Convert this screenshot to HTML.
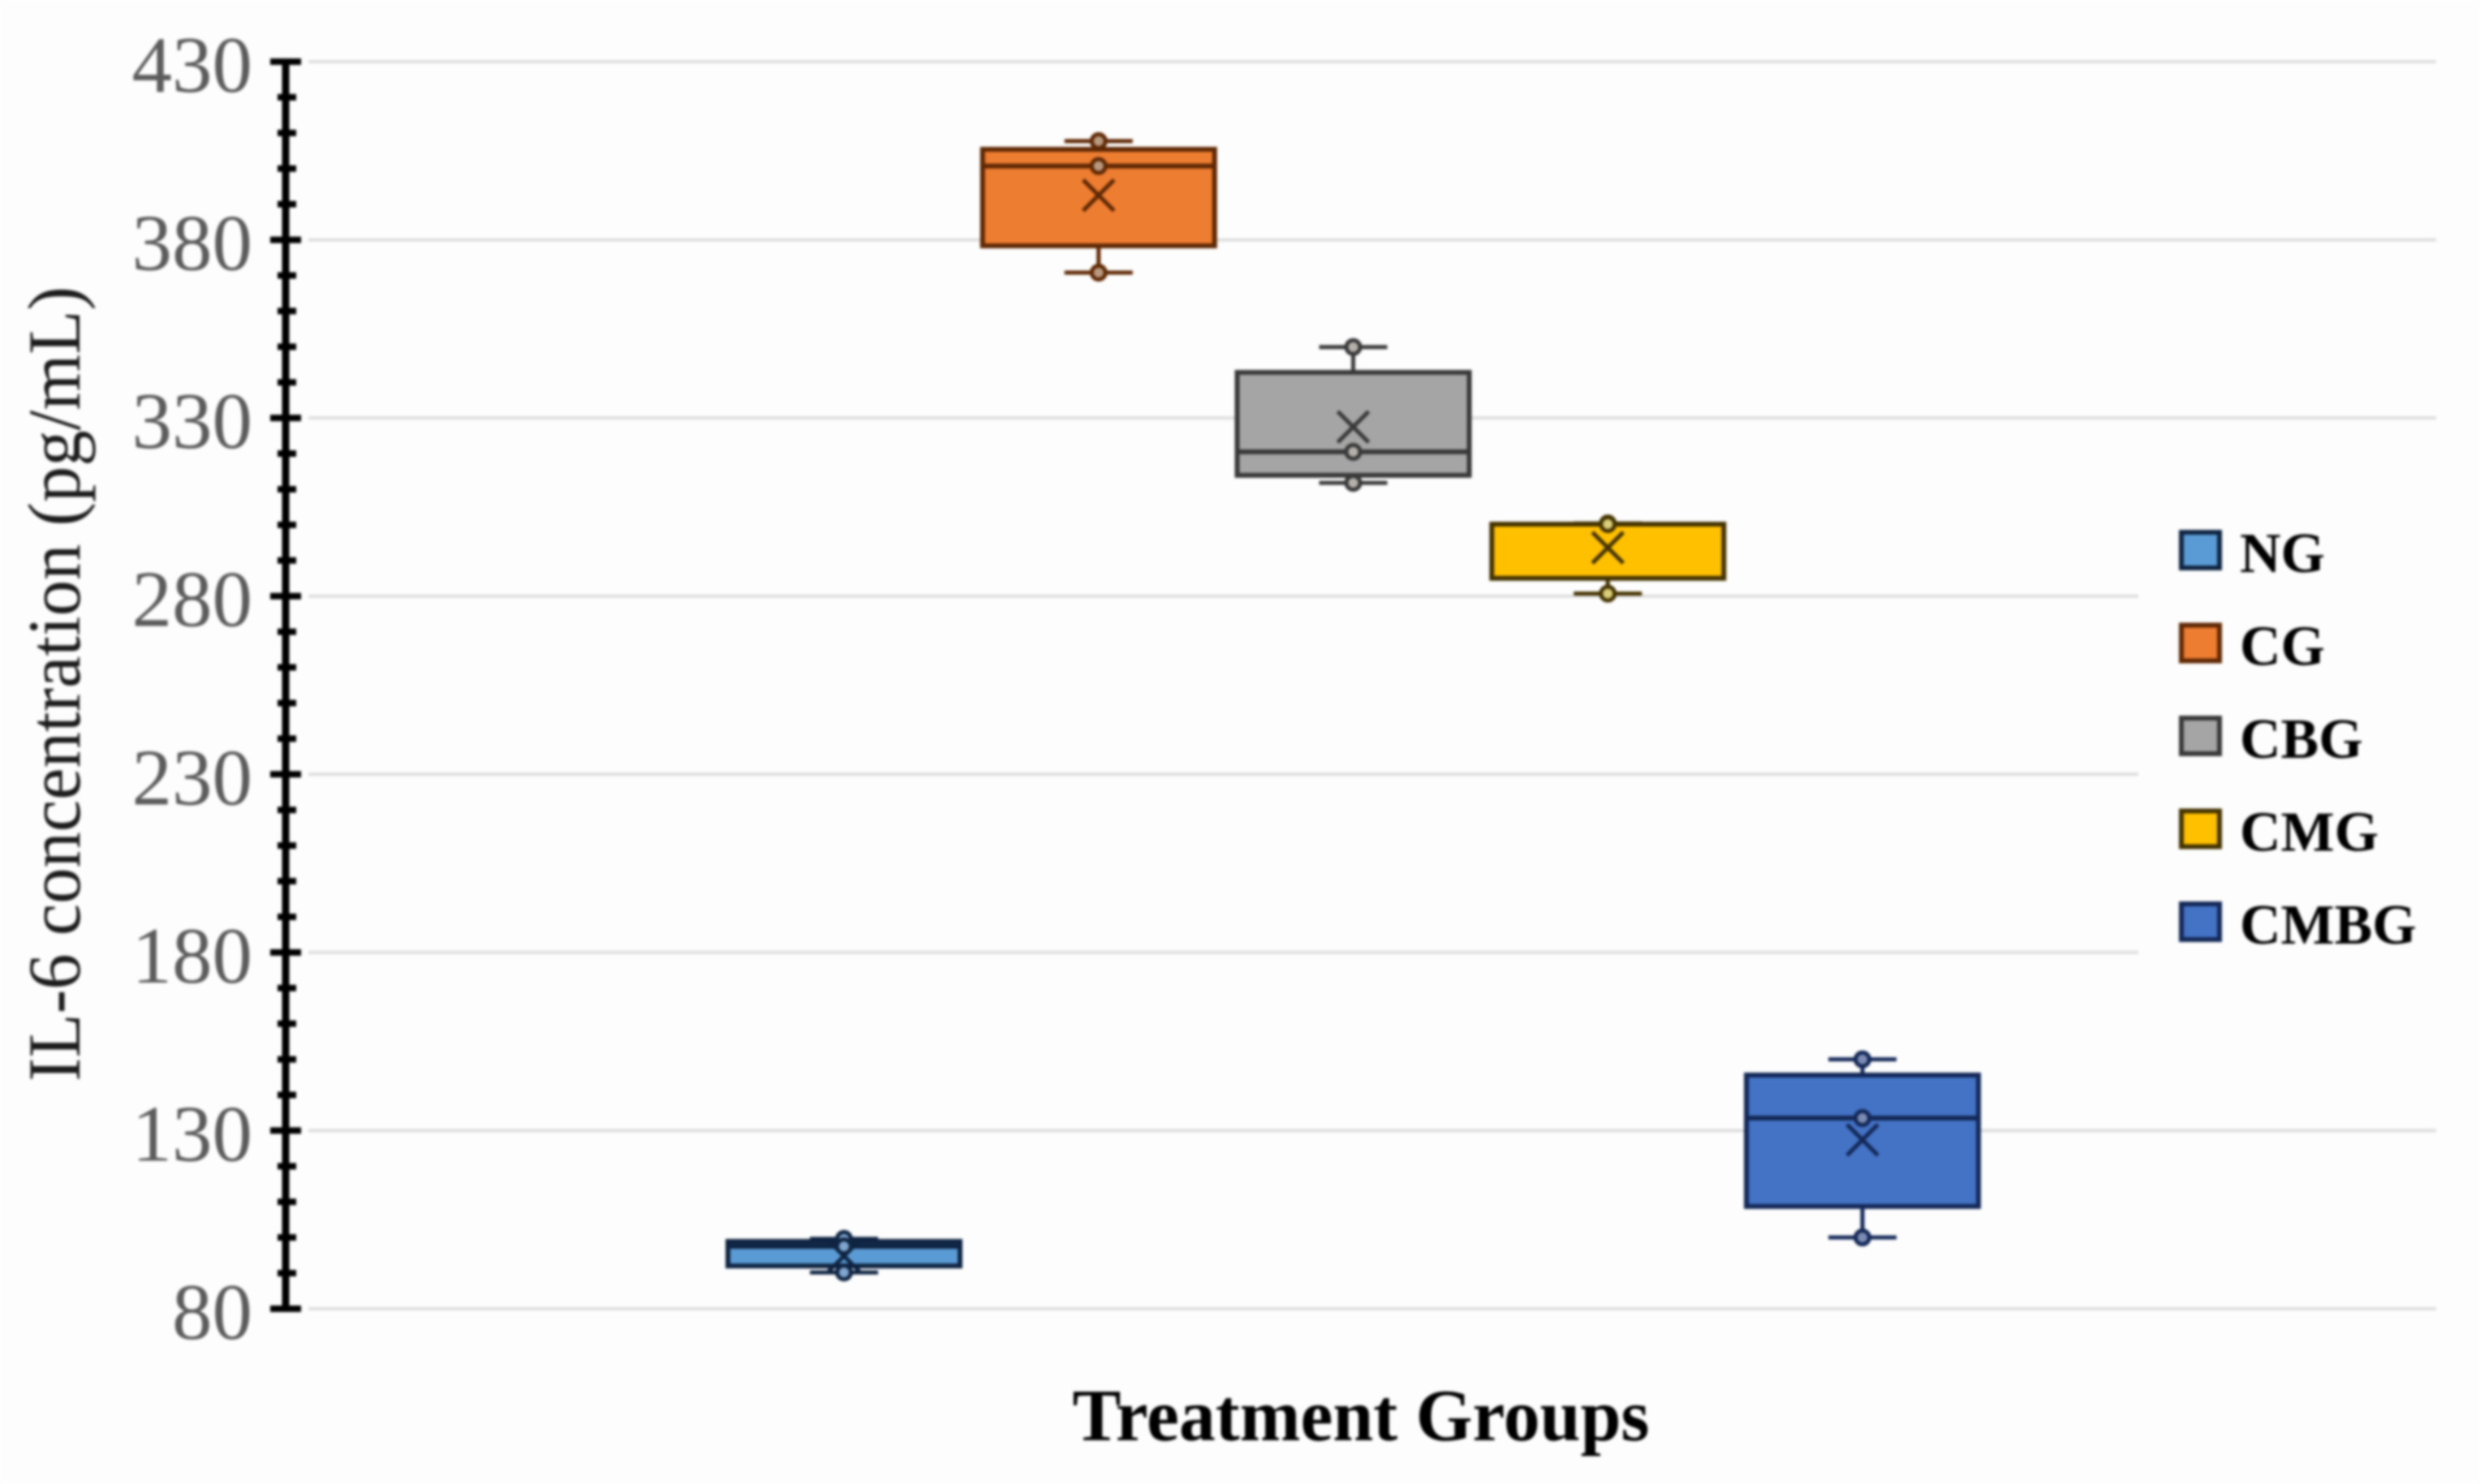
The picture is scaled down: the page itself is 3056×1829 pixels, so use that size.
<!DOCTYPE html>
<html lang="en">
<head>
<meta charset="utf-8">
<title>IL-6 concentration box plot</title>
<style>
html,body{margin:0;padding:0;background:#fdfdfd;width:3056px;height:1829px;overflow:hidden}
svg{display:block;filter:blur(1.6px)}
text{font-family:"Liberation Serif",serif}
</style>
</head>
<body>
<svg id="chart" xmlns="http://www.w3.org/2000/svg" width="3056" height="1829" viewBox="0 0 3056 1829">
<rect x="0" y="0" width="3056" height="1829" fill="#fdfdfd"/>
<text transform="translate(98,843) rotate(-90)" text-anchor="middle" font-size="92" fill="#1c1c1c" textLength="980" lengthAdjust="spacingAndGlyphs">IL-6 concentration (pg/mL)</text>
<text x="1677" y="1775" text-anchor="middle" font-size="91" font-weight="bold" fill="#000" textLength="711" lengthAdjust="spacingAndGlyphs">Treatment Groups</text>
</svg>
<script>
const categories = ['NG', 'CG', 'CBG', 'CMG', 'CMBG'];
const whiskerHigh = [99.6, 407.7, 349.9, 300.4, 150];
const q3Values = [98.9, 405.4, 342.8, 300.2, 145.6];
const medianValues = [97.5, 400.7, 320.5, 300.2, 133.5];
const meanValues = [94.8, 392.5, 327.5, 293.6, 127.4];
const q1Values = [92, 378.3, 313.9, 285, 108.7];
const whiskerLow = [90.2, 370.8, 311.8, 280.7, 100];
const tickLabels = [80, 130, 180, 230, 280, 330, 380, 430];
const minorStep = 10;
const fills = ['#5b9bd5', '#ed7d31', '#a5a5a5', '#ffc000', '#4472c4'];
const edges = ['#0f2442', '#5f2804', '#383838', '#443300', '#132857'];
const pointFills = ['#7fa6cf', '#b8997f', '#b5b0aa', '#d9cd78', '#7c8bb2'];

const svg = document.getElementById('chart');
const NS = 'http://www.w3.org/2000/svg';
const plot = { yBottom: 1613, yTop: 76, xFirst: 1040, xStep: 313.75, boxWidth: 286, capHalf: 42, axisX: 352, gridLeft: 380, gridRight: 3002 };
const yMin = tickLabels[0];
const yMax = tickLabels[tickLabels.length - 1];
function yScale(v) { return plot.yBottom - (v - yMin) * (plot.yBottom - plot.yTop) / (yMax - yMin); }
function xScale(i) { return plot.xFirst + i * plot.xStep; }
function make(tag, attrs, parent) {
  const el = document.createElementNS(NS, tag);
  for (const k in attrs) el.setAttribute(k, attrs[k]);
  (parent || svg).appendChild(el);
  return el;
}

tickLabels.forEach(function (t) {
  const line = make('line', { x1: plot.gridLeft, x2: plot.gridRight, y1: yScale(t), y2: yScale(t), stroke: '#dedede', 'stroke-width': 4 });
  
  
});

const legendBack = make('rect', { x: 2635, y: 630, width: 421, height: 640, fill: '#fdfdfd' });



const axis = make('line', { x1: plot.axisX, x2: plot.axisX, y1: yScale(yMax), y2: yScale(yMin), stroke: '#000', 'stroke-width': 9 });



for (let v = yMin; v < yMax; v += minorStep) {
  if (tickLabels.indexOf(v) >= 0) continue;
  const minor = make('line', { x1: 342, x2: 365, y1: yScale(v), y2: yScale(v), stroke: '#000', 'stroke-width': 8 });
  
  
}

tickLabels.forEach(function (t) {
  const major = make('line', { x1: 333, x2: 371, y1: yScale(t), y2: yScale(t), stroke: '#000', 'stroke-width': 8 });
  
  
  const label = make('text', { x: 311, y: yScale(t) + 37, 'text-anchor': 'end', 'font-size': 99, fill: '#5c5c5c' });
  label.textContent = String(t);
  
  
});

categories.forEach(function (name, i) {
  const cx = xScale(i);
  const edge = edges[i];
  const g = make('g', {});
  
  

  const stem = make('line', { x1: cx, x2: cx, y1: yScale(whiskerHigh[i]), y2: yScale(whiskerLow[i]), stroke: edge, 'stroke-width': 5 }, g);
  
  

  [whiskerHigh[i], whiskerLow[i]].forEach(function (v) {
    const cap = make('line', { x1: cx - plot.capHalf, x2: cx + plot.capHalf, y1: yScale(v), y2: yScale(v), stroke: edge, 'stroke-width': 5 }, g);
    
    
  });

  const box = make('rect', { x: cx - plot.boxWidth / 2, y: yScale(q3Values[i]), width: plot.boxWidth, height: yScale(q1Values[i]) - yScale(q3Values[i]), fill: fills[i], stroke: edge, 'stroke-width': 6 }, g);
  
  

  const med = make('line', { x1: cx - plot.boxWidth / 2, x2: cx + plot.boxWidth / 2, y1: yScale(medianValues[i]), y2: yScale(medianValues[i]), stroke: edge, 'stroke-width': 6 }, g);
  
  

  const my = yScale(meanValues[i]);
  const mean = make('path', { d: 'M' + (cx - 19) + ' ' + (my - 19) + 'L' + (cx + 19) + ' ' + (my + 19) + 'M' + (cx - 19) + ' ' + (my + 19) + 'L' + (cx + 19) + ' ' + (my - 19), fill: 'none', stroke: edge, 'stroke-width': 5 }, g);
  
  

  [whiskerHigh[i], medianValues[i], whiskerLow[i]].forEach(function (v) {
    const pt = make('circle', { cx: cx, cy: yScale(v), r: 8.5, fill: pointFills[i], stroke: edge, 'stroke-width': 5 }, g);
    
    
  });
});

const legend = make('g', {});


categories.forEach(function (name, i) {
  const top = 656 + i * 114.5;
  const swatch = make('rect', { x: 2688, y: top, width: 47, height: 44, fill: fills[i], stroke: edges[i], 'stroke-width': 6 }, legend);
  
  
  const txt = make('text', { x: 2760, y: top + 49, 'font-size': 70, 'font-weight': 'bold', fill: '#000' }, legend);
  txt.textContent = name;
  
  
});
</script>
</body>
</html>
